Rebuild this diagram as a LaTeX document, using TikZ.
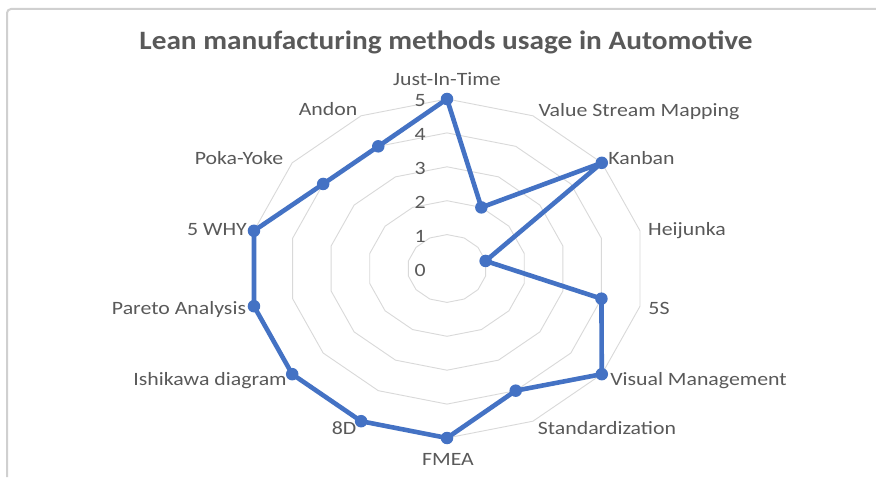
\documentclass[tikz,border=0pt]{standalone}
\usepackage{fontspec}
\setmainfont{Carlito}
\definecolor{txt}{HTML}{595959}
\definecolor{gridc}{HTML}{D9D9D9}
\definecolor{framec}{HTML}{D0D0D0}
\definecolor{ser}{HTML}{4472C4}
\begin{document}
\begin{tikzpicture}[x=1pt,y=1pt,
  lbl/.style={font=\fontsize{18.8}{20}\selectfont, text=txt, inner sep=0pt, anchor=base, xscale=1.16},
  ticklbl/.style={lbl, anchor=base east},
  gridring/.style={draw=gridc, line width=0.9pt},
  serline/.style={draw=ser, line width=4.6pt, line join=round},
  mk/.style={circle, fill=ser, minimum size=12.5pt, inner sep=0pt}]
\useasboundingbox (0,0) rectangle (876,477);
\fill[white] (0,0) rectangle (876,477);
\draw[framec, line width=2pt, rounded corners=4pt] (7,0) -- (7,468) -- (876,468);
\node[font=\bfseries\fontsize{26.5}{28}\selectfont, text=txt, anchor=base, inner sep=0pt, xscale=1.105] (title) at (446,427) {Lean manufacturing methods usage in Automotive};
\begin{scope}[shift={(447pt,208.5pt)}, x=39.6pt, y=33.9pt]
  \foreach \r in {1,...,5} {
    \draw[gridring] (90:\r) \foreach \k in {1,...,13} { -- ({90-\k*360/14}:\r) } -- cycle;
  }
  \foreach \v [count=\k from 0] in {5,2,5,1,4,5,4,5,5,5,5,5,4,4} {
    \coordinate (v\k) at ({90-\k*360/14}:\v);
  }
  \draw[serline] (v0) -- (v1) -- (v2) -- (v3) -- (v4) -- (v5) -- (v6) -- (v7) -- (v8) -- (v9) -- (v10) -- (v11) -- (v12) -- (v13) -- cycle;
  \foreach \k in {0,...,13} { \node[mk] (p\k) at (v\k) {}; }
\end{scope}
\foreach \t in {0,...,5} {
  \node[ticklbl] (t\t) at (426, {200.5+33.9*\t}) {\t};
}
\node[lbl] (l0) at (447,391) {Just-In-Time};
\node[lbl] (l1) at (639,360) {Value Stream Mapping};
\node[lbl] (l2) at (641.5,312) {Kanban};
\node[lbl] (l3) at (687,241) {Heijunka};
\node[lbl] (l4) at (659,162) {5S};
\node[lbl] (l5) at (698.5,91) {Visual Management};
\node[lbl] (l6) at (607,42) {Standardization};
\node[lbl] (l7) at (448,12) {FMEA};
\node[lbl] (l8) at (344,42) {8D};
\node[lbl] (l9) at (210,92) {Ishikawa diagram};
\node[lbl] (l10) at (179,162) {Pareto Analysis};
\node[lbl] (l11) at (217,241) {5 WHY};
\node[lbl] (l12) at (239,312) {Poka-Yoke};
\node[lbl] (l13) at (328,361) {Andon};
\end{tikzpicture}
\end{document}
